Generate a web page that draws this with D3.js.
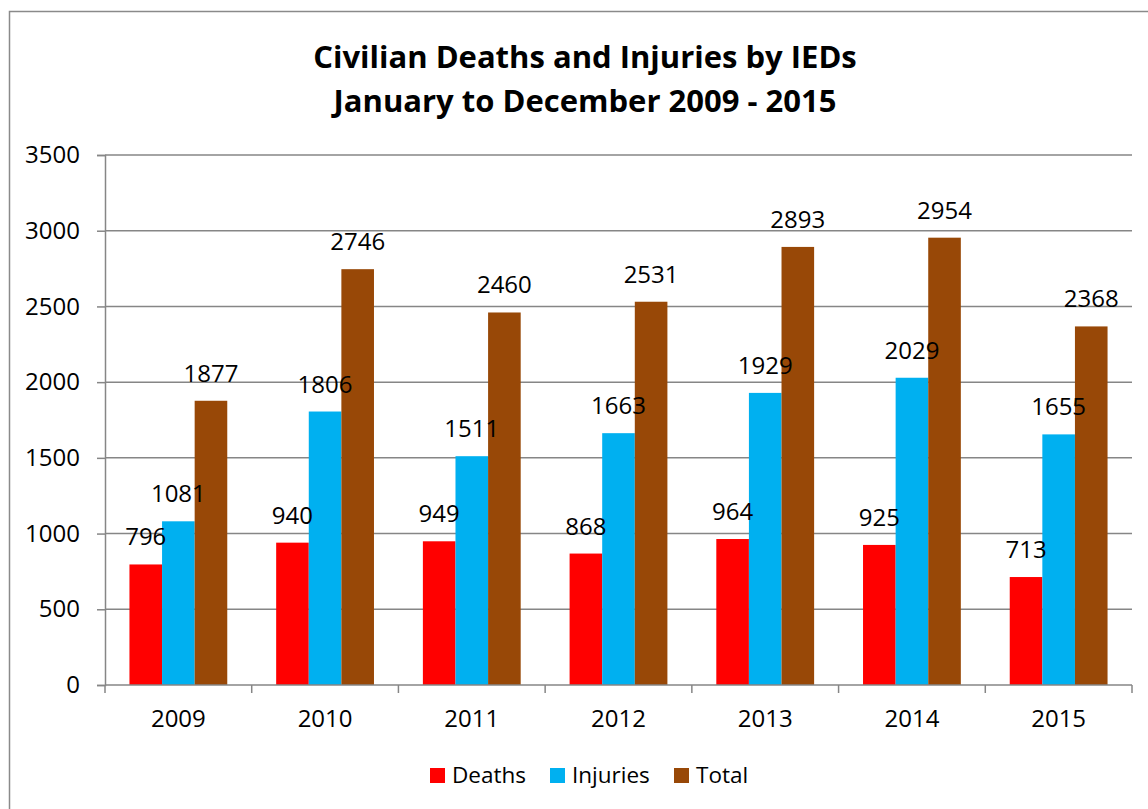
<!DOCTYPE html>
<html>
<head>
<meta charset="utf-8">
<script src="https://cdn.jsdelivr.net/npm/d3@7.9.0/dist/d3.min.js"></script>
<style>
  body { margin: 0; background: #fff; }
  svg { display: block; font-family: "Open Sans", sans-serif; }
</style>
</head>
<body>
<svg id="chart" width="1148" height="809"></svg>
<script>
const years = ["2009", "2010", "2011", "2012", "2013", "2014", "2015"];
const deaths = [796, 940, 949, 868, 964, 925, 713];
const injuries = [1081, 1806, 1511, 1663, 1929, 2029, 1655];
const totals = [1877, 2746, 2460, 2531, 2893, 2954, 2368];
const seriesNames = ["Deaths", "Injuries", "Total"];
const seriesColors = ["#ff0000", "#00b0f0", "#984807"];
const yTicks = [0, 500, 1000, 1500, 2000, 2500, 3000, 3500];

const svg = d3.select("#chart");

// outer chart border (runs off the right / bottom edge)
svg.append("rect")
    .attr("x", 9.5).attr("y", 11.5)
    .attr("width", 1160).attr("height", 820)
    .attr("fill", "#fff")
    .attr("stroke", "#8a8a8a")
    .attr("stroke-width", 1.5);

// title
const title = svg.append("text")
    .attr("text-anchor", "middle")
    .attr("font-weight", "bold")
    .attr("font-size", 31)
    .attr("fill", "#000");
title.append("tspan").attr("x", 585).attr("y", 68).text("Civilian Deaths and Injuries by IEDs");
title.append("tspan").attr("x", 585).attr("y", 112).text("January to December 2009 - 2015");

const plotLeft = 105, plotRight = 1132, plotTop = 155, plotBottom = 685;

const x0 = d3.scaleBand().domain(years).range([plotLeft, plotRight]);
const x1 = d3.scaleBand().domain(seriesNames)
    .range([0, x0.bandwidth()])
    .paddingOuter(0.75);
const y = d3.scaleLinear().domain([0, 3500]).range([plotBottom, plotTop]);

// gridlines
svg.append("g")
    .selectAll("line")
    .data(yTicks.filter(d => d > 0))
    .join("line")
    .attr("x1", plotLeft).attr("x2", plotRight)
    .attr("y1", d => y(d)).attr("y2", d => y(d))
    .attr("stroke", "#868686")
    .attr("stroke-width", 1.5);

// y axis
const yAxis = svg.append("g")
    .attr("transform", `translate(${plotLeft},0)`)
    .call(d3.axisLeft(y).tickValues(yTicks).tickFormat(d3.format("d"))
        .tickSize(8).tickPadding(17));
yAxis.select(".domain").attr("stroke", "#868686").attr("stroke-width", 1.5);
yAxis.selectAll(".tick line").attr("stroke", "#868686").attr("stroke-width", 1.5);
yAxis.selectAll("text")
    .attr("font-family", "Open Sans, sans-serif")
    .attr("font-size", 24)
    .attr("fill", "#000");

// bars
const rows = years.map((yr, i) => ({
  year: yr,
  values: [deaths[i], injuries[i], totals[i]]
}));

const groups = svg.append("g")
    .selectAll("g")
    .data(rows)
    .join("g")
    .attr("transform", d => `translate(${x0(d.year)},0)`);

groups.selectAll("rect")
    .data(d => d.values.map((v, k) => ({ name: seriesNames[k], value: v, k })))
    .join("rect")
    .attr("x", d => x1(d.name))
    .attr("y", d => y(d.value))
    .attr("width", x1.bandwidth())
    .attr("height", d => y(0) - y(d.value))
    .attr("fill", d => seriesColors[d.k]);

groups.selectAll("text.lbl")
    .data(d => d.values.map((v, k) => ({ name: seriesNames[k], value: v })))
    .join("text")
    .attr("class", "lbl")
    .attr("x", d => x1(d.name) + x1.bandwidth() / 2)
    .attr("y", d => y(d.value) - 19)
    .attr("text-anchor", "middle")
    .attr("font-size", 24)
    .attr("fill", "#000")
    .text(d => d.value);

// x axis
const xAxisLine = svg.append("g");
xAxisLine.append("line")
    .attr("x1", plotLeft).attr("x2", plotRight)
    .attr("y1", plotBottom).attr("y2", plotBottom)
    .attr("stroke", "#868686").attr("stroke-width", 1.5);
xAxisLine.selectAll("line.tk")
    .data(years.map(d => x0(d)).concat([plotRight]))
    .join("line")
    .attr("class", "tk")
    .attr("x1", d => d).attr("x2", d => d)
    .attr("y1", plotBottom).attr("y2", plotBottom + 8)
    .attr("stroke", "#868686").attr("stroke-width", 1.5);
xAxisLine.selectAll("text")
    .data(years)
    .join("text")
    .attr("x", d => x0(d) + x0.bandwidth() / 2)
    .attr("y", 727)
    .attr("text-anchor", "middle")
    .attr("font-size", 24)
    .attr("fill", "#000")
    .text(d => d);

// legend
const legendX = [430, 550, 674];
const legend = svg.append("g")
    .selectAll("g")
    .data(seriesNames)
    .join("g")
    .attr("transform", (d, i) => `translate(${legendX[i]},768)`);
legend.append("rect")
    .attr("width", 15).attr("height", 15)
    .attr("fill", (d, i) => seriesColors[i]);
legend.append("text")
    .attr("x", 22).attr("y", 15)
    .attr("font-size", 22.5)
    .attr("fill", "#000")
    .text(d => d);
</script>
</body>
</html>
